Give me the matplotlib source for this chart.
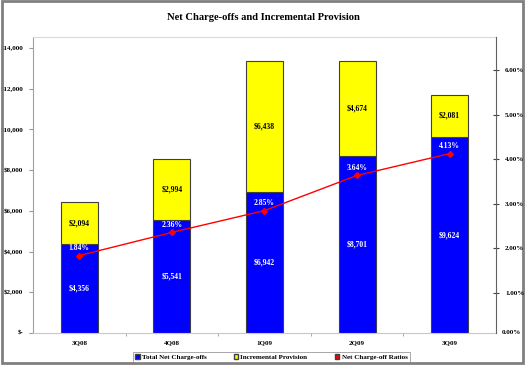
import numpy as np
import matplotlib.pyplot as plt
from matplotlib.patches import Rectangle, Patch
from matplotlib.ticker import FuncFormatter

# data
quarters = ['3Q08', '4Q08', '1Q09', '2Q09', '3Q09']
net_chargeoffs = [4356, 5541, 6942, 8701, 9624]
incr_provision = [2094, 2994, 6438, 4674, 2081]
nco_ratio = [1.84, 2.36, 2.85, 3.64, 4.13]

plt.rcParams['font.family'] = ['Liberation Serif', 'DejaVu Serif']
plt.rcParams['font.weight'] = 'bold'

fig = plt.figure(figsize=(5.26, 3.66), dpi=100)
fig.patches.append(Rectangle((0.003, 0.008), 0.992, 0.988, transform=fig.transFigure,
                             fill=False, edgecolor='#808080', linewidth=2.0))

ax = fig.add_axes([0.0627, 0.0902, 0.8803, 0.8088])
x = np.arange(len(quarters))
w = 0.4

ax.bar(x, net_chargeoffs, w, color='#0000FF', edgecolor='#404040', linewidth=0.8,
       label='Total Net Charge-offs', zorder=2)
ax.bar(x, incr_provision, w, bottom=net_chargeoffs, color='#FFFF00', edgecolor='#404040',
       linewidth=0.8, label='Incremental Provision', zorder=2)

for i in range(len(x)):
    ax.text(x[i], net_chargeoffs[i] / 2, '${:,}'.format(net_chargeoffs[i]), ha='center',
            va='center', color='white', fontsize=5.5, fontweight='bold', zorder=5)
    ax.text(x[i], net_chargeoffs[i] + incr_provision[i] / 2, '${:,}'.format(incr_provision[i]),
            ha='center', va='center', color='black', fontsize=5.5, fontweight='bold', zorder=5)

ax.set_xlim(-0.5, len(x) - 0.5)
ax.set_ylim(0, 14540)
ax.set_yticks(np.arange(0, 14001, 2000))
ax.yaxis.set_major_formatter(FuncFormatter(lambda v, p: '$-' if v == 0 else '${:,.0f}'.format(v)))
ax.set_xticks(x)
ax.set_xticklabels(quarters)
ax.set_xticks(np.arange(0.5, len(x) - 0.5, 1), minor=True)
ax.tick_params(axis='x', which='major', length=0, labelsize=5, pad=5)
ax.tick_params(axis='x', which='minor', length=2, color='#999999')
ax.tick_params(axis='y', labelsize=5, length=3, color='#999999', pad=4)
for lab in ax.get_xticklabels() + ax.get_yticklabels():
    lab.set_fontweight('bold')

ax.spines['top'].set_color('#d9d9d9')
ax.spines['bottom'].set_color('#c8c8c8')
ax.spines['left'].set_color('#a0a0a0')
ax.spines['right'].set_visible(False)

ax2 = ax.twinx()
ax2.plot(x, nco_ratio, color='#FF0000', linewidth=1.0, marker='D', markersize=3,
         label='Net Charge-off Ratios', zorder=4)
for i in range(len(x)):
    ax2.text(x[i], nco_ratio[i] + 0.16, '{:.2f}%'.format(nco_ratio[i]), ha='center',
             va='center', color='white', fontsize=5.5, fontweight='bold', zorder=5)
ax2.set_ylim(0.1, 6.75)
ax2.set_yticks(np.arange(1, 6.01, 1))
ax2.yaxis.set_major_formatter(FuncFormatter(lambda v, p: '{:.2f}%'.format(v)))
ax2.tick_params(axis='y', labelsize=5, length=5, direction='inout', color='#404040', pad=4)
for lab in ax2.get_yticklabels():
    lab.set_fontweight('bold')
ax2.text(1.012, 0.0, '0.00%', transform=ax2.transAxes, ha='left', va='center',
         fontsize=5, fontweight='bold')
ax2.spines['right'].set_color('#606060')
for s in ['top', 'left', 'bottom']:
    ax2.spines[s].set_visible(False)

ax.set_zorder(1)
ax2.set_zorder(2)
ax2.patch.set_visible(False)

fig.text(0.5, 0.952, 'Net Charge-offs and Incremental Provision', ha='center', va='center',
         fontsize=7.6, fontweight='bold')

l1 = ['Total Net Charge-offs', 'Incremental Provision', 'Net Charge-off Ratios']
handles = [Patch(facecolor='#0000FF', edgecolor='#404040'),
           Patch(facecolor='#FFFF00', edgecolor='#404040'),
           Patch(facecolor='#FF0000', edgecolor='#404040')]
leg = fig.legend(handles, l1, loc='center', bbox_to_anchor=(0.516, 0.0246), ncol=3,
                 fontsize=5, frameon=True, fancybox=False, edgecolor='#808080',
                 handlelength=0.6, handleheight=0.6, handletextpad=0.3, columnspacing=4.0,
                 borderpad=0.35)
leg.get_frame().set_linewidth(0.6)

fig.savefig('out.png', dpi=100)
